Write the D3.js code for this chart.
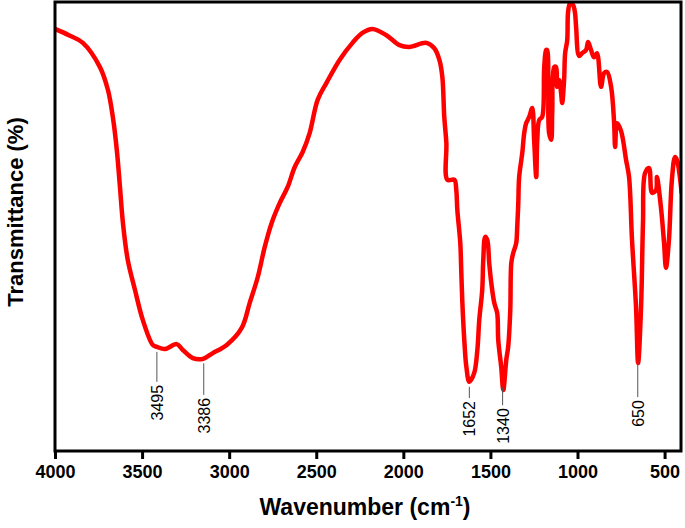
<!DOCTYPE html>
<html lang="en">
<head>
    <meta charset="UTF-8">
    <title>FTIR spectrum</title>
    <script src="https://d3js.org/d3.v7.min.js"></script>
    <style>
        body{
            margin: 0;
            background-color: white;
        }
        svg{
            display: block;
            font-family: Arial, "Liberation Sans", sans-serif;
        }
    </style>
</head>
<body>
    <svg></svg>
<script>
    const width = 685;
    const height = 528;
    const margin = {top: 2, right: 3, bottom: 77, left: 55};

    /* spectrum: wavenumber (cm-1) and transmittance */
    const wavenumber = [4000, 3920, 3840, 3742, 3696, 3668, 3645, 3627, 3610, 3582, 3541, 3496, 3438, 3415, 3369,
        3301, 3266, 3209, 3152, 3094, 3014, 2928, 2882, 2836, 2796, 2756, 2710, 2664, 2624, 2578, 2538,
        2492, 2441, 2366, 2292, 2235, 2177, 2097, 2022, 1965, 1868, 1822, 1793, 1776, 1765, 1753, 1747,
        1707, 1696, 1690, 1673, 1667, 1661, 1650, 1638, 1621, 1593, 1575, 1564, 1547, 1541, 1530, 1518,
        1507, 1495, 1478, 1461, 1455, 1438, 1426, 1409, 1398, 1386, 1380, 1369, 1352, 1346, 1340, 1335,
        1317, 1306, 1295, 1277, 1260, 1249, 1237, 1231, 1220, 1203, 1191, 1180, 1174, 1168, 1163, 1151,
        1145, 1134, 1123, 1117, 1105, 1094, 1088, 1077, 1071, 1059, 1054, 1042, 1025, 1014, 1008, 991,
        974, 951, 939, 922, 905, 888, 865, 847, 830, 807, 790, 784, 773, 750, 721, 704, 687, 664, 652,
        635, 624, 612, 589, 572, 549, 544, 521, 503, 492, 475, 458, 440, 429, 402];
    const transmittance = [94.0, 92.6, 90.9, 85.5, 80.4, 74.4, 67.0, 58.8, 50.8, 42.5, 35.9, 29.2, 23.6, 23.2, 22.7,
        23.8, 22.5, 20.7, 20.5, 21.8, 23.6, 27.4, 33.0, 38.7, 45.4, 50.8, 55.2, 58.8, 63.2, 66.6, 70.8,
        78.2, 82.0, 87.1, 90.9, 93.1, 94.0, 92.6, 90.4, 90.0, 90.9, 89.7, 87.1, 83.3, 74.4, 68.6, 60.4,
        60.4, 58.1, 53.7, 46.3, 39.6, 33.0, 24.7, 18.7, 15.4, 17.4, 22.5, 29.2, 35.9, 42.5, 47.7, 47.0,
        41.9, 37.4, 33.0, 30.7, 24.7, 18.7, 13.6, 20.3, 23.2, 31.4, 41.9, 44.1, 46.3, 49.9, 55.2, 61.0,
        66.4, 70.8, 73.0, 74.4, 76.4, 69.3, 61.0, 69.3, 73.7, 74.4, 85.5, 89.3, 89.3, 82.0, 70.8, 69.3,
        75.5, 85.5, 85.5, 81.1, 82.6, 79.7, 77.5, 82.6, 88.6, 91.5, 97.8, 99.8, 99.3, 97.5, 94.4, 88.0,
        88.6, 89.3, 91.1, 89.3, 87.7, 88.6, 81.1, 84.2, 84.4, 81.1, 73.3, 67.7, 73.0, 71.3, 64.8, 61.0,
        47.0, 32.1, 19.6, 32.1, 50.8, 61.9, 63.0, 57.5, 58.1, 61.0, 54.3, 46.3, 40.8, 47.0, 60.4, 65.5,
        64.8, 57.5];

    const xTicks = [4000, 3500, 3000, 2500, 2000, 1500, 1000, 500];

    /* labelled bands: text, where the leader sits, and where the leader ends */
    const peakLabels = ['3495', '3386', '1652', '1340', '650'];
    const peakWavenumber = [3415, 3146, 1621, 1430, 654];
    const peakLeaderEnd = [15.4, 12.5, 11.8, 10.2, 12.0];

    const data = wavenumber.map((w, i) => ({w: w, t: transmittance[i]}));

    const svg = d3.select('svg')
            .attr('width', width)
            .attr('height', height);

    const x = d3.scaleLinear()
            .domain([4000, 400])
            .range([margin.left, width - margin.right]);
    const y = d3.scaleLinear()
            .domain([0, 100])
            .range([height - margin.bottom, margin.top]);

    svg.append('clipPath').attr('id', 'plotClip')
        .append('rect')
        .attr('x', margin.left)
        .attr('y', margin.top)
        .attr('width', width - margin.left - margin.right)
        .attr('height', height - margin.top - margin.bottom);

    /* spectrum line */
    const line = d3.line()
            .curve(d3.curveCatmullRom.alpha(0.5))
            .x(d => x(d.w))
            .y(d => y(d.t));

    svg.append('path')
        .datum(data)
        .attr('clip-path', 'url(#plotClip)')
        .attr('fill', 'none')
        .attr('stroke', '#ff0000')
        .attr('stroke-width', 4.5)
        .attr('stroke-linejoin', 'round')
        .attr('stroke-linecap', 'round')
        .attr('d', line);

    /* leaders and labels for the bands */
    const bisect = d3.bisector(d => -d.w).left;
    function curveAt(w){
        const i = Math.min(Math.max(bisect(data, -w), 1), data.length - 1);
        const a = data[i - 1], b = data[i];
        return a.t + (b.t - a.t) * (w - a.w) / (b.w - a.w);
    }

    const peaks = svg.append('g')
        .selectAll('g')
        .data(peakLabels)
        .join('g');

    peaks.append('line')
        .attr('x1', (d, i) => x(peakWavenumber[i]))
        .attr('x2', (d, i) => x(peakWavenumber[i]))
        .attr('y1', (d, i) => y(curveAt(peakWavenumber[i])) + 5)
        .attr('y2', (d, i) => y(peakLeaderEnd[i]))
        .attr('stroke', '#555')
        .attr('stroke-width', 1);

    peaks.append('text')
        .attr('transform', (d, i) => `translate(${x(peakWavenumber[i]) + 6},${y(peakLeaderEnd[i]) + 3}) rotate(-90)`)
        .attr('text-anchor', 'end')
        .attr('font-size', 16)
        .attr('fill', '#000')
        .text(d => d);

    /* frame */
    svg.append('rect')
        .attr('x', margin.left)
        .attr('y', margin.top)
        .attr('width', width - margin.left - margin.right - 1)
        .attr('height', height - margin.top - margin.bottom)
        .attr('fill', 'none')
        .attr('stroke', '#000')
        .attr('stroke-width', 3);

    /* x axis */
    const xAxis = svg.append('g')
        .attr('transform', `translate(0,${height - margin.bottom})`)
        .call(d3.axisBottom(x).tickValues(xTicks).tickSize(8).tickSizeOuter(0).tickFormat(d3.format('d')));
    xAxis.select('.domain').remove();
    xAxis.selectAll('.tick line')
        .attr('stroke', '#000')
        .attr('stroke-width', 3);
    xAxis.selectAll('.tick text')
        .attr('y', 14)
        .attr('font-size', 18)
        .attr('font-weight', 'bold')
        .attr('font-family', 'Arial, "Liberation Sans", sans-serif')
        .attr('fill', '#000');

    /* axis titles */
    const xTitle = svg.append('text')
        .attr('x', 365)
        .attr('y', 515)
        .attr('text-anchor', 'middle')
        .attr('font-size', 23)
        .attr('font-weight', 'bold');
    xTitle.append('tspan').text('Wavenumber (cm');
    xTitle.append('tspan').attr('font-size', 14).attr('dy', -9).text('-1');
    xTitle.append('tspan').attr('dy', 9).text(')');

    svg.append('text')
        .attr('transform', 'translate(23,212) rotate(-90)')
        .attr('text-anchor', 'middle')
        .attr('font-size', 22)
        .attr('font-weight', 'bold')
        .text('Transmittance (%)');
</script>
</body>
</html>
